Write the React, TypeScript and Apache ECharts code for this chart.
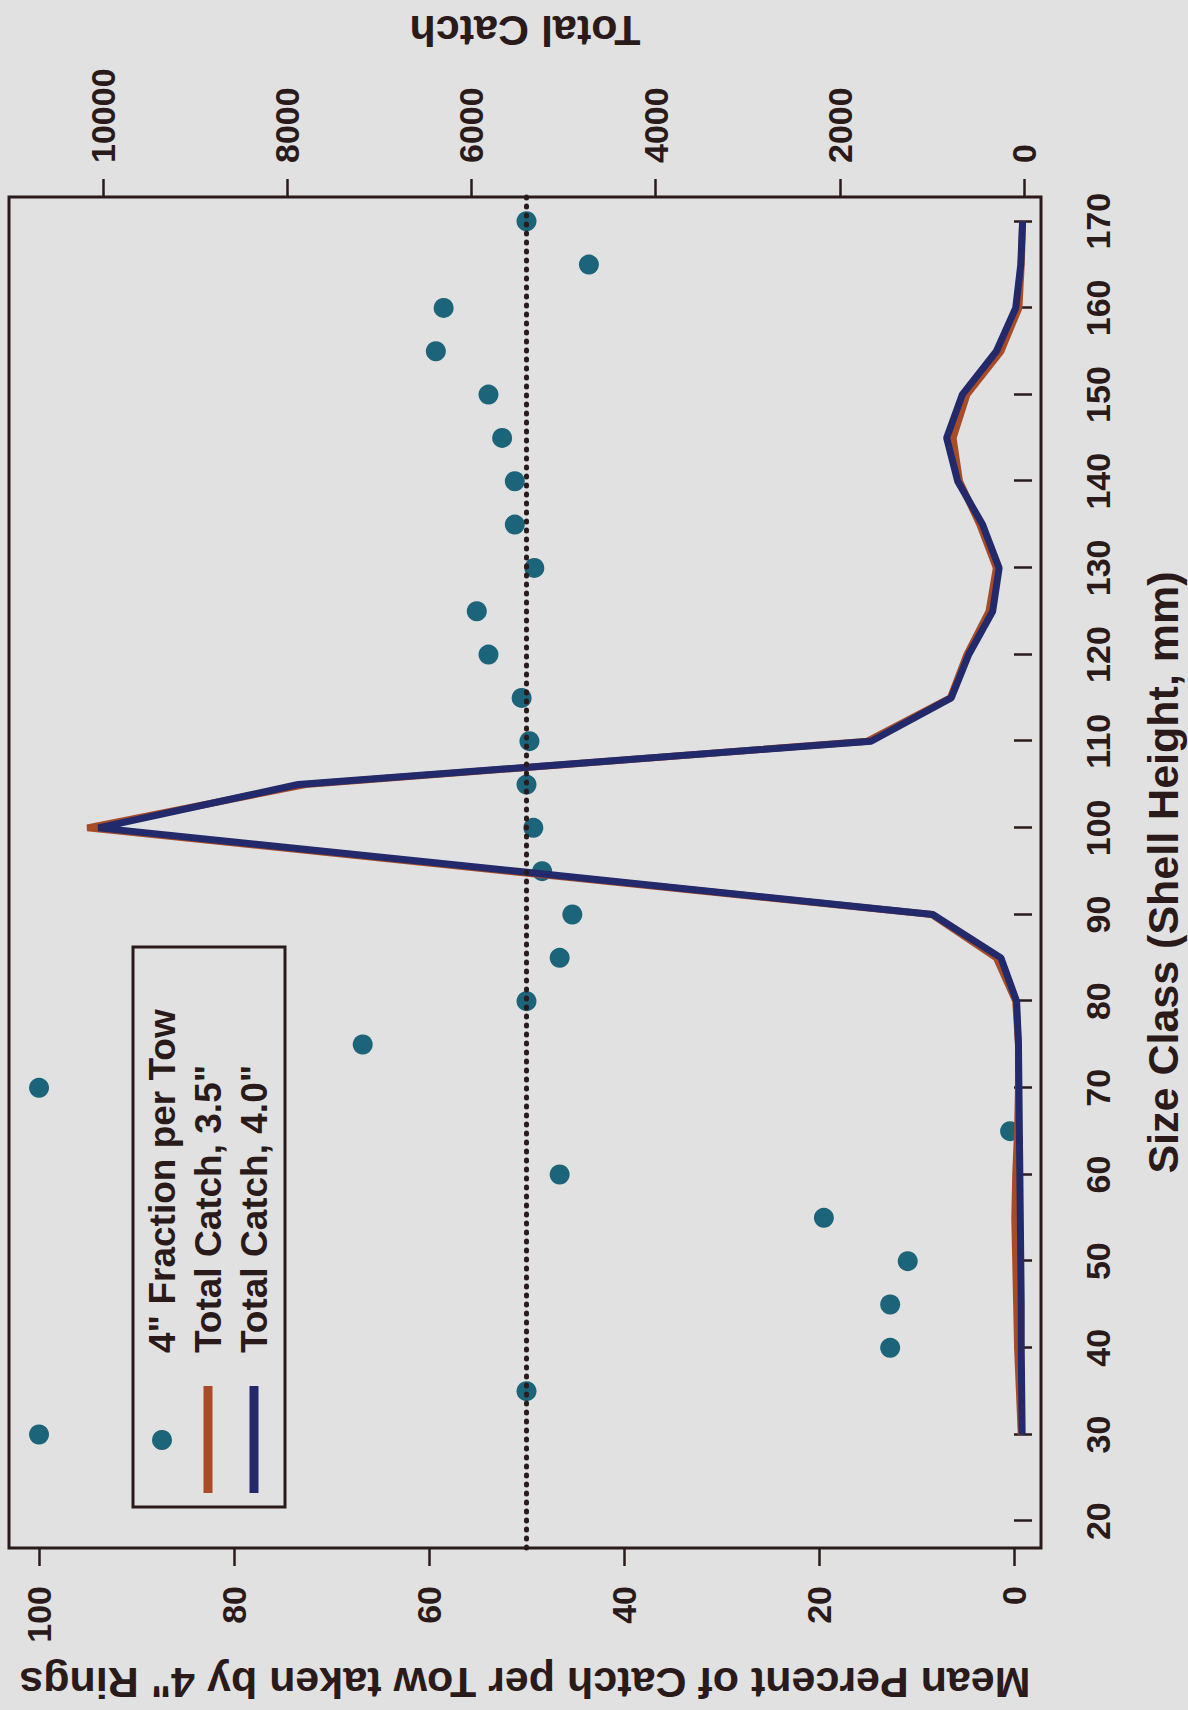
import React, { useEffect, useRef } from "react";
import * as echarts from "echarts";

// ---- data ----
const sizeClasses = [30, 35, 40, 45, 50, 55, 60, 65, 70, 75, 80, 85, 90, 95, 100, 105, 110, 115, 120, 125, 130, 135, 140, 145, 150, 155, 160, 165, 170];
const fractionPerTow = [100, 50, 12.7, 12.7, 10.9, 19.5, 46.6, 0.4, 100, 66.8, 50, 46.6, 45.3, 48.4, 49.3, 50, 49.7, 50.5, 53.9, 55.1, 49.2, 51.2, 51.2, 52.5, 53.9, 59.3, 58.5, 43.6, 50];
const totalCatch35 = [30, 50, 70, 80, 90, 100, 90, 70, 60, 60, 90, 300, 1000, 5600, 10170, 7800, 1700, 800, 620, 380, 300, 480, 700, 770, 620, 250, 55, 30, 15];
const totalCatch40 = [20, 25, 30, 30, 35, 40, 45, 50, 55, 60, 80, 250, 990, 5500, 10050, 7880, 1660, 790, 600, 340, 270, 450, 720, 840, 670, 300, 90, 35, 15];
const sizeTicks = [20, 30, 40, 50, 60, 70, 80, 90, 100, 110, 120, 130, 140, 150, 160, 170];
const percentTicks = [0, 20, 40, 60, 80, 100];
const catchTicks = [0, 2000, 4000, 6000, 8000, 10000];
const referenceLevel = 50;
const seriesNames = ['4" Fraction per Tow', 'Total Catch, 3.5"', 'Total Catch, 4.0"'];
const axisTitles = {
  size: "Size Class (Shell Height, mm)",
  percent: 'Mean Percent of Catch per Tow taken by 4" Rings',
  catch: "Total Catch",
};

// ---- styling ----
const BG = "#e1e1e1";
const INK = "#2a1a1a";
const DOT = "#1c6479";
const ORANGE = "#a84c27";
const NAVY = "#232a6b";
const FONT = "'Liberation Sans', Arial, Helvetica, sans-serif";

const W = 1710; // unrotated chart width
const H = 1188; // unrotated chart height

const plain = (v: number) => String(v);

export default function App() {
  const ref = useRef<HTMLDivElement>(null);

  useEffect(() => {
    if (!ref.current) return;
    const chart = echarts.init(ref.current, undefined, { renderer: "svg", width: W, height: H });
    const tickLabel = { fontSize: 34, fontWeight: "bold" as const, fontFamily: FONT, color: INK, formatter: plain };
    const titleStyle = { fontSize: 43, fontWeight: "bold" as const, fontFamily: FONT, color: INK };

    chart.setOption({
      animation: false,
      backgroundColor: "transparent",
      grid: {
        left: 162,
        right: 197,
        top: 9,
        bottom: 147,
        show: true,
        borderColor: INK,
        borderWidth: 3,
        backgroundColor: "transparent",
        containLabel: false,
        outerBoundsMode: "none",
      },
      xAxis: {
        type: "value",
        min: 16.9,
        max: 172.8,
        position: "bottom",
        axisLine: { show: false },
        splitLine: { show: false },
        axisTick: { show: true, customValues: sizeTicks, length: 18, lineStyle: { color: INK, width: 2.5 } },
        axisLabel: { show: true, customValues: sizeTicks, margin: 40, ...tickLabel },
        name: axisTitles.size,
        nameLocation: "middle",
        nameGap: 100,
        nameTextStyle: titleStyle,
      },
      yAxis: [
        {
          type: "value",
          min: -2.77,
          max: 103.08,
          position: "left",
          axisLine: { show: false },
          splitLine: { show: false },
          axisTick: { show: true, customValues: percentTicks, length: 18, lineStyle: { color: INK, width: 2.5 } },
          axisLabel: { show: true, customValues: percentTicks, margin: 38, ...tickLabel },
          name: axisTitles.percent,
          nameLocation: "middle",
          nameRotate: 90,
          nameGap: 113,
          nameTextStyle: titleStyle,
        },
        {
          type: "value",
          min: -184.6,
          max: 11020,
          position: "right",
          axisLine: { show: false },
          splitLine: { show: false },
          axisTick: { show: true, customValues: catchTicks, length: 18, lineStyle: { color: INK, width: 2.5 } },
          axisLabel: { show: true, customValues: catchTicks, margin: 34, ...tickLabel },
          name: axisTitles.catch,
          nameLocation: "middle",
          nameRotate: 90,
          nameGap: 145,
          nameTextStyle: titleStyle,
        },
      ],
      series: [
        {
          name: seriesNames[0],
          type: "scatter",
          yAxisIndex: 0,
          symbol: "circle",
          symbolSize: 20,
          itemStyle: { color: DOT, opacity: 1 },
          data: sizeClasses.map((s, i) => [s, fractionPerTow[i]]),
          z: 2,
          markLine: {
            silent: true,
            symbol: ["none", "none"],
            label: { show: false },
            lineStyle: { color: INK, width: 5, type: [1, 8], cap: "round", opacity: 1 },
            data: [{ yAxis: referenceLevel }],
          },
        },
        {
          name: seriesNames[1],
          type: "line",
          yAxisIndex: 1,
          showSymbol: false,
          symbol: "none",
          lineStyle: { color: ORANGE, width: 7 },
          itemStyle: { color: ORANGE },
          data: sizeClasses.map((s, i) => [s, totalCatch35[i]]),
          z: 3,
        },
        {
          name: seriesNames[2],
          type: "line",
          yAxisIndex: 1,
          showSymbol: false,
          symbol: "none",
          lineStyle: { color: NAVY, width: 7 },
          itemStyle: { color: NAVY },
          data: sizeClasses.map((s, i) => [s, totalCatch40[i]]),
          z: 4,
        },
      ],
      graphic: [
        {
          type: "rect",
          shape: { x: 203, y: 133, width: 560, height: 152 },
          style: { fill: "none", stroke: INK, lineWidth: 3 },
          z: 10,
        },
        { type: "circle", shape: { cx: 270, cy: 162, r: 10 }, style: { fill: DOT }, z: 10 },
        { type: "line", shape: { x1: 217, y1: 208, x2: 324, y2: 208 }, style: { stroke: ORANGE, lineWidth: 9 }, z: 10 },
        { type: "line", shape: { x1: 217, y1: 254, x2: 324, y2: 254 }, style: { stroke: NAVY, lineWidth: 9 }, z: 10 },
        ...seriesNames.map((t, i) => ({
          type: "text",
          x: 357,
          y: 162 + i * 46,
          z: 10,
          style: {
            text: t,
            fill: INK,
            fontSize: 37,
            fontWeight: "bold",
            fontFamily: FONT,
            align: "left",
            verticalAlign: "middle",
            textAlign: "left",
            textVerticalAlign: "middle",
          },
        })),
      ],
    });
    return () => chart.dispose();
  }, []);

  return (
    <div style={{ position: "absolute", left: 0, top: 0, width: 1188, height: 1710, overflow: "hidden", background: BG }}>
      <div
        ref={ref}
        style={{
          position: "absolute",
          left: 0,
          top: 0,
          width: W,
          height: H,
          transformOrigin: "0 0",
          transform: `translate(0px, ${W}px) rotate(-90deg)`,
        }}
      />
    </div>
  );
}
